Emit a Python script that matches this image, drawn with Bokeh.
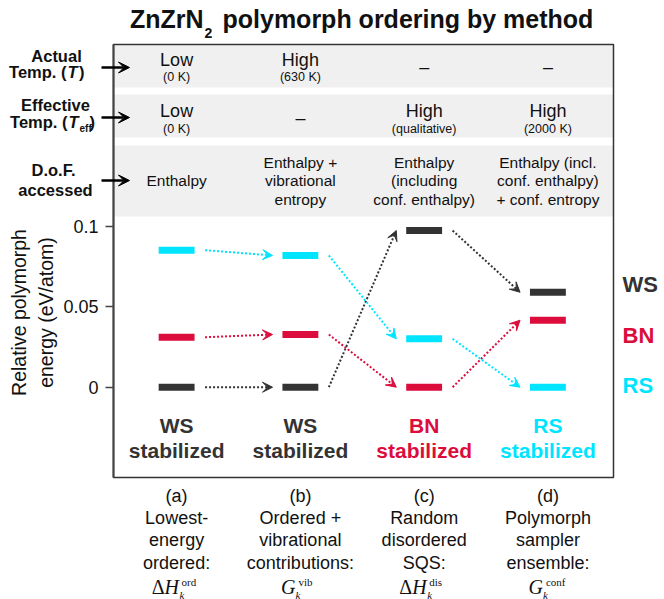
import numpy as np
from bokeh.plotting import figure
from bokeh.models import Label, Arrow, VeeHead, FixedTicker, Range1d, ColumnDataSource
from bokeh.embed import file_html
from bokeh.resources import INLINE

# ---------------- data ----------------
categories = ["a", "b", "c", "d"]
ws_energy = [0.0, 0.0, 0.0975, 0.0591]
bn_energy = [0.0311, 0.0328, 0.0, 0.0417]
rs_energy = [0.0853, 0.0820, 0.0301, 0.0]
stabilized = ["WS", "WS", "BN", "RS"]
method_letters = ["(a)", "(b)", "(c)", "(d)"]
method_lines = [["Lowest-", "energy", "ordered:"],
                ["Ordered +", "vibrational", "contributions:"],
                ["Random", "disordered", "SQS:"],
                ["Polymorph", "sampler", "ensemble:"]]
math_delta = [True, False, True, False]
math_main = ["H", "G", "H", "G"]
math_sup = ["ord", "vib", "dis", "conf"]
actual_main = ["Low", "High", "–", "–"]
actual_sub = ["(0 K)", "(630 K)", "", ""]
eff_main = ["Low", "–", "High", "High"]
eff_sub = ["(0 K)", "", "(qualitative)", "(2000 K)"]
dof_lines = [["Enthalpy"],
             ["Enthalpy +", "vibrational", "entropy"],
             ["Enthalpy", "(including", "conf. enthalpy)"],
             ["Enthalpy (incl.", "conf. enthalpy)", "+ conf. entropy"]]
y_ticks = [0, 0.05, 0.1]
y_tick_labels = ["0", "0.05", "0.1"]

COL = {"WS": "#333333", "BN": "#dc0d3c", "RS": "#00e5ff"}
SANS = "Liberation Sans"
SERIF = "Liberation Serif"
INK = "#111111"

# ---------------- geometry ----------------
W, H = 664, 599
BL, BR, BT, BB = 113, 613, 44, 477        # box edges in canvas pixels
X0b, X1b = -0.01, 4.03                     # box edges in data units
Y0b, Y1b = -0.0562, 0.2133
SX = (BR - BL) / (X1b - X0b)
SY = (BB - BT) / (Y1b - Y0b)
x_range = Range1d(X0b - BL / SX, X1b + (W - BR) / SX)
y_range = Range1d(Y0b - (H - BB) / SY, Y1b + BT / SY)


def dx(px):
    return X0b + (px - BL) / SX


def dy(py):
    return Y1b - (py - BT) / SY


p = figure(width=W, height=H, x_range=x_range, y_range=y_range,
           output_backend="svg", toolbar_location=None, x_axis_location=None,
           min_border_left=0, min_border_right=0, min_border_top=0, min_border_bottom=0)
p.title.visible = False
p.grid.visible = False
p.outline_line_color = None
p.background_fill_color = "white"
p.border_fill_color = "white"

ax = p.yaxis[0]
ax.fixed_location = X0b
ax.bounds = (Y0b, Y1b)
ax.ticker = FixedTicker(ticks=y_ticks)
ax.major_label_overrides = {t: s for t, s in zip(y_ticks, y_tick_labels)}
ax.axis_line_color = "#444444"
ax.axis_line_width = 2
ax.major_tick_out = 8
ax.major_tick_in = 0
ax.major_tick_line_color = "#444444"
ax.major_tick_line_width = 1.5
ax.minor_tick_out = 0
ax.minor_tick_in = 0
ax.major_label_text_font = SANS
ax.major_label_text_font_size = "18px"
ax.major_label_text_color = INK
ax.major_label_standoff = 7

# header bands and box
bands = [(45, 87), (94, 137), (145, 216)]
p.quad(left=[X0b] * 3, right=[X1b] * 3, bottom=[dy(b) for _, b in bands],
       top=[dy(t) for t, _ in bands], fill_color="#f0f0f0", line_color=None)
p.quad(left=[X0b], right=[X1b], bottom=[Y0b], top=[Y1b], fill_color=None,
       line_color="#333333", line_width=1.5)

centers = [i + 0.5 for i in range(len(categories))]
BAR_W = 0.29
series = [("WS", ws_energy), ("BN", bn_energy), ("RS", rs_energy)]
for name, vals in series:
    src = ColumnDataSource(dict(x=centers, y=vals))
    p.rect(x="x", y="y", width=BAR_W, height=7, height_units="screen",
           source=src, fill_color=COL[name], line_color=None)

GAP0, GAP1 = 0.085, 0.08
for name, vals in series:
    for i in range(len(centers) - 1):
        p.add_layout(Arrow(x_start=centers[i] + BAR_W / 2 + GAP0, y_start=vals[i],
                           x_end=centers[i + 1] - BAR_W / 2 - GAP1, y_end=vals[i + 1],
                           line_color=COL[name], line_width=2, line_dash="2 2",
                           end=VeeHead(size=10, fill_color=COL[name], line_color=COL[name],
                                       line_width=1)))


def lab(text, px, py, size, style="normal", color=INK, align="center",
        font=SANS, angle=0.0):
    p.add_layout(Label(x=dx(px), y=dy(py), text=text, text_font=font,
                       text_font_size=f"{size}px", text_font_style=style,
                       text_color=color, text_align=align, text_baseline="middle",
                       angle=angle))


cx = [BL + (c - X0b) * SX for c in centers]

# title
lab("ZnZrN", 203, 18, 25, "bold", INK, "right")
lab("2", 204, 32, 14, "bold", INK, "left")
lab("polymorph ordering by method", 222, 18, 25, "bold", INK, "left")

# header rows
for i, c in enumerate(cx):
    if actual_sub[i]:
        lab(actual_main[i], c, 59, 18)
        lab(actual_sub[i], c, 76, 12.5)
    else:
        lab(actual_main[i], c, 66, 18)
    if eff_sub[i]:
        lab(eff_main[i], c, 110, 18)
        lab(eff_sub[i], c, 128, 12.5)
    else:
        lab(eff_main[i], c, 117, 18)
    lines = dof_lines[i]
    n = len(lines)
    for j, t in enumerate(lines):
        lab(t, c, 180 + (j - (n - 1) / 2) * 18.5, 15.5)

# left header labels
lab("Actual", 56, 55, 16.5, "bold")
lab("Temp. (", 66, 71, 16.5, "bold", align="right")
lab("T", 67, 71, 16.5, "bold italic", align="left")
lab(")", 78.5, 71, 16.5, "bold", align="left")
lab("Effective", 55, 104, 16.5, "bold")
lab("Temp. (", 67, 121, 16.5, "bold", align="right")
lab("T", 68, 121, 16.5, "bold italic", align="left")
lab("eff", 79, 128, 10, "bold", align="left")
lab(")", 89, 121, 16.5, "bold", align="left")
lab("D.o.F.", 53, 169, 16.5, "bold")
lab("accessed", 55, 189, 16.5, "bold")
for yy in (67, 117, 180):
    p.add_layout(Arrow(x_start=dx(101), y_start=dy(yy), x_end=dx(129), y_end=dy(yy),
                       line_color="black", line_width=2.5,
                       end=VeeHead(size=11, fill_color="black", line_color="black",
                                   line_width=1)))

# y axis title
lab("Relative polymorph", 18, 312, 19.5, angle=np.pi / 2)
lab("energy (eV/atom)", 45, 312, 19.5, angle=np.pi / 2)

# right legend labels
for name, yy in (("WS", 284), ("BN", 335), ("RS", 385)):
    lab(name, 622, yy, 22, "bold", COL[name], "left")

# stabilized labels inside box bottom
for i, c in enumerate(cx):
    lab(stabilized[i], c, 425, 21, "bold", COL[stabilized[i]])
    lab("stabilized", c, 450, 21, "bold", COL[stabilized[i]])

# method descriptions below the box
for i, c in enumerate(cx):
    lab(method_letters[i], c, 495, 18)
    for j, t in enumerate(method_lines[i]):
        lab(t, c, 517 + j * 22.5, 18)
    my = 586
    if math_delta[i]:
        lab("Δ", c - 12, my, 20, "normal", INK, "right", SERIF)
        lab(math_main[i], c - 12, my, 20, "italic", INK, "left", SERIF)
        kx, sx = c + 3, c + 5
    else:
        lab(math_main[i], c - 5, my, 20, "italic", INK, "right", SERIF)
        kx, sx = c - 5, c - 2
    lab("k", kx, my + 8, 11, "italic", INK, "left", SERIF)
    lab(math_sup[i], sx, my - 5, 11, "normal", INK, "left", SERIF)

open("out.html", "w").write(file_html(p, INLINE))
